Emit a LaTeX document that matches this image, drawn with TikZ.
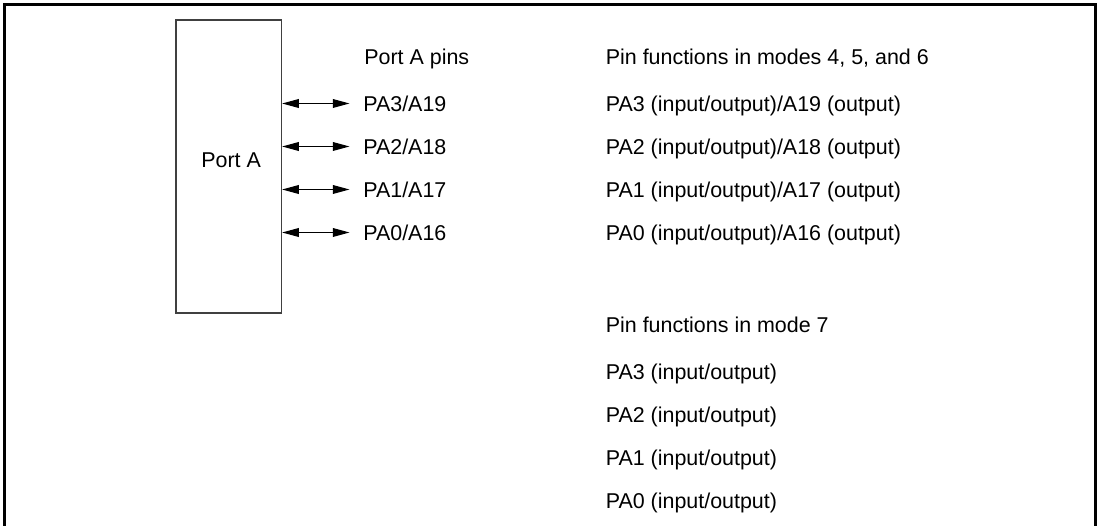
\documentclass[tikz,border=0pt]{standalone}
\usepackage{fontspec}
\setmainfont{Liberation Sans}
\usetikzlibrary{arrows.meta}

\begin{document}
\begin{tikzpicture}[x=0.02cm, y=-0.02cm, >={Triangle[length=9.5pt,width=5pt]},
  txt/.style={anchor=west, inner sep=0pt, text height=9pt, text depth=0pt, font=\fontsize{12.2}{14}\selectfont}]
\useasboundingbox (0,0) rectangle (1100,526);
% open frame
\draw[line width=1.3pt] (4.5,526) -- (4.5,4.5) -- (1095.5,4.5) -- (1095.5,526);

% port block
\node[draw=black!75, line width=0.8pt, inner sep=0pt, minimum width=60pt, minimum height=166.7pt] (portA) at (228.75,166.5) {};
\node[txt] (portAname) at (201,160) {Port A};
\node[txt] (pinhead) at (364,57) {Port A pins};

\foreach \n/\a [count=\k from 0] in {3/19,2/18,1/17,0/16} {
  \node[txt] (pin\n) at (363,103.5+43*\k) {PA\n/A\a};
  \draw[<->, line width=0.6pt, shorten >=7.7pt] (portA.east |- pin\n.west) -- (pin\n.west);
}

% pin functions
\node[txt] (fnhead) at (605.5,57) {Pin functions in modes 4, 5, and 6};
\foreach \n/\a [count=\k from 0] in {3/19,2/18,1/17,0/16}
  \node[txt] (fn\n) at (605.5,103.5+43*\k) {PA\n{} (input/output)/A\a{} (output)};

\node[txt] (modehead) at (605.5,325) {Pin functions in mode 7};
\foreach \n [count=\k from 0] in {3,2,1,0}
  \node[txt] (mode\n) at (605.5,371.5+43*\k) {PA\n{} (input/output)};
\end{tikzpicture}
\end{document}
